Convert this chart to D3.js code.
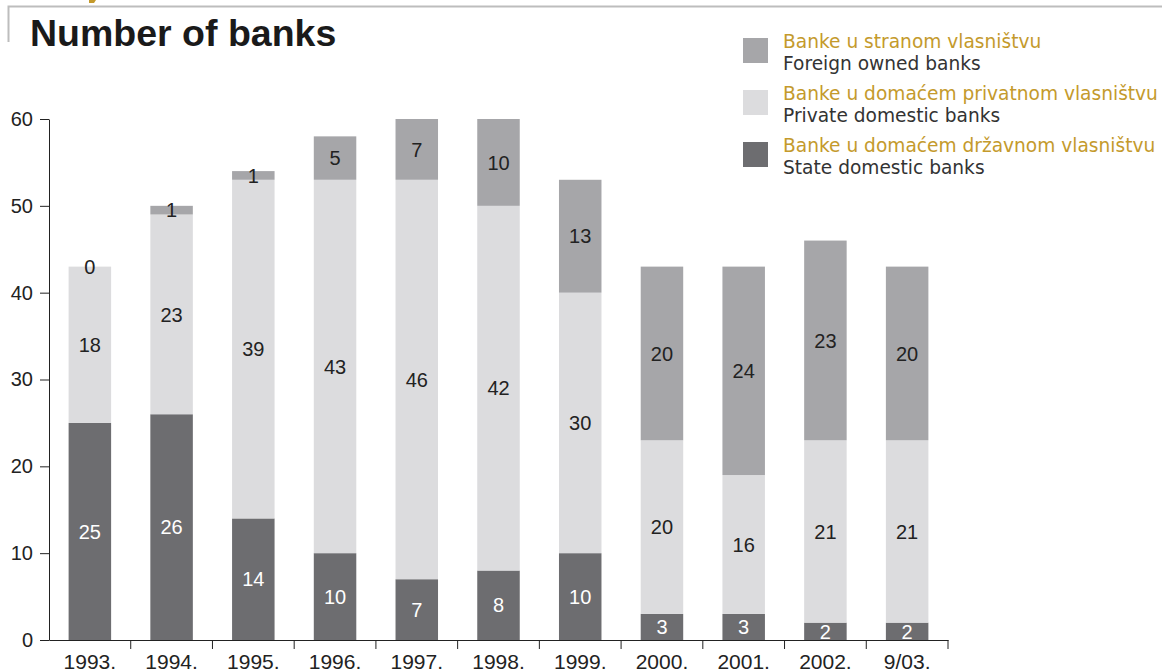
<!DOCTYPE html>
<html>
<head>
<meta charset="utf-8">
<script src="https://cdn.jsdelivr.net/npm/d3@7"></script>
<style>
  body { margin: 0; background: #fff; }
  text { font-family: "Liberation Sans", Arial, sans-serif; }
  text.legend-text { font-family: "DejaVu Sans", sans-serif; }
</style>
</head>
<body>
<div id="container"></div>
<script>
/* DATA */
const years = ["1993.", "1994.", "1995.", "1996.", "1997.", "1998.", "1999.", "2000.", "2001.", "2002.", "9/03."];
const stateBanks = [25, 26, 14, 10, 7, 8, 10, 3, 3, 2, 2];
const privateBanks = [18, 23, 39, 43, 46, 42, 30, 20, 16, 21, 21];
const foreignBanks = [0, 1, 1, 5, 7, 10, 13, 20, 24, 23, 20];
const yTicks = [0, 10, 20, 30, 40, 50, 60];

const seriesKeys = ["state", "private", "foreign"];
const seriesNames = {
  foreign: ["Banke u stranom vlasništvu", "Foreign owned banks"],
  private: ["Banke u domaćem privatnom vlasništvu", "Private domestic banks"],
  state: ["Banke u domaćem državnom vlasništvu", "State domestic banks"]
};
const colors = { state: "#6d6d70", private: "#dcdcde", foreign: "#a6a6a9" };
const labelColors = { state: "#fff", private: "#222", foreign: "#222" };
const gold = "#c49a2c";

/* CONSTANTS */
const width = 1162;
const height = 672;
const margin = { top: 119, bottom: 32, left: 49, right: 214 };

const table = years.map((y, i) => ({
  year: y, state: stateBanks[i], private: privateBanks[i], foreign: foreignBanks[i]
}));

const svg = d3.select("#container")
  .append("svg")
  .attr("width", width)
  .attr("height", height);

/* SCALES */
const xScale = d3.scaleBand()
  .domain(years)
  .range([margin.left, width - margin.right])
  .paddingInner(0.48)
  .paddingOuter(0.24);

const yScale = d3.scaleLinear()
  .domain([0, 60])
  .range([height - margin.bottom, margin.top]);

// frame bits at the top
svg.append("path")
  .attr("d", `M8.5,42 V6.5 H${width}`)
  .attr("fill", "none")
  .attr("stroke", "#bdbdbd")
  .attr("stroke-width", 2);
svg.append("path")
  .attr("d", "M89,0 L96,0 L94,3 L89,3 Z")
  .attr("fill", gold);

// title
svg.append("text")
  .attr("x", 30)
  .attr("y", 46)
  .attr("font-size", 37.5)
  .attr("font-weight", "bold")
  .attr("fill", "#1a1a1a")
  .text("Number of banks");

/* BARS */
const stack = d3.stack().keys(seriesKeys)(table);

const layer = svg.selectAll(".layer")
  .data(stack)
  .join("g")
  .attr("class", "layer")
  .attr("fill", d => colors[d.key]);

layer.selectAll("rect")
  .data(d => d)
  .join("rect")
  .attr("x", d => xScale(d.data.year))
  .attr("width", xScale.bandwidth())
  .attr("y", d => yScale(d[1]))
  .attr("height", d => yScale(d[0]) - yScale(d[1]));

// value labels
stack.forEach(s => {
  svg.append("g")
    .selectAll("text")
    .data(s)
    .join("text")
    .attr("x", d => xScale(d.data.year) + xScale.bandwidth() / 2)
    .attr("y", d => yScale((d[0] + d[1]) / 2))
    .attr("dy", "0.36em")
    .attr("text-anchor", "middle")
    .attr("font-size", 20)
    .attr("fill", labelColors[s.key])
    .text(d => d.data[s.key]);
});

/* AXES */
const yAxis = svg.append("g")
  .attr("transform", `translate(${margin.left},0)`)
  .call(d3.axisLeft(yScale).tickValues(yTicks).tickSize(9).tickSizeOuter(0).tickPadding(7));
yAxis.select(".domain").attr("stroke", "#222");
yAxis.selectAll(".tick line").attr("stroke", "#222");
yAxis.selectAll(".tick text")
  .attr("font-size", 20)
  .attr("fill", "#222");

const baseY = yScale(0);
const xAxis = svg.append("g")
  .attr("transform", `translate(0,${baseY})`)
  .call(d3.axisBottom(xScale).tickSize(0).tickPadding(14));
xAxis.select(".domain").attr("stroke", "#222");
xAxis.selectAll(".tick text")
  .attr("font-size", 21)
  .attr("fill", "#222");

// ticks between the categories
const step = xScale.step();
xAxis.selectAll(".sep")
  .data(years)
  .join("line")
  .attr("class", "sep")
  .attr("x1", d => xScale(d) + xScale.bandwidth() + (step - xScale.bandwidth()) / 2)
  .attr("x2", d => xScale(d) + xScale.bandwidth() + (step - xScale.bandwidth()) / 2)
  .attr("y1", 0)
  .attr("y2", 9)
  .attr("stroke", "#222");

/* LEGEND */
const legendKeys = ["foreign", "private", "state"];
const legend = svg.selectAll(".legend")
  .data(legendKeys)
  .join("g")
  .attr("class", "legend")
  .attr("transform", (d, i) => `translate(743,${38 + i * 52})`);

legend.append("rect")
  .attr("width", 25)
  .attr("height", 25)
  .attr("fill", d => colors[d]);

legend.append("text")
  .attr("class", "legend-text")
  .attr("x", 40)
  .attr("y", 9.5)
  .attr("font-size", 18.6)
  .attr("fill", gold)
  .text(d => seriesNames[d][0]);

legend.append("text")
  .attr("class", "legend-text")
  .attr("x", 40)
  .attr("y", 31.5)
  .attr("font-size", 18.6)
  .attr("fill", "#333")
  .text(d => seriesNames[d][1]);
</script>
</body>
</html>
